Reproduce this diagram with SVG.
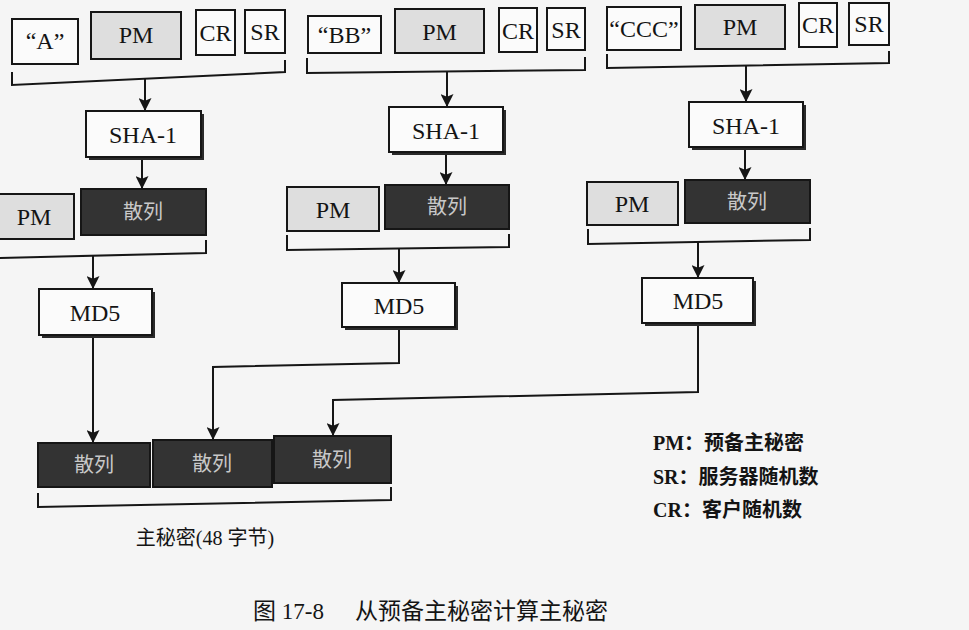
<svg xmlns="http://www.w3.org/2000/svg" width="969" height="630" viewBox="0 0 969 630">
<style>
text{font-family:'Liberation Serif','Noto Sans CJK SC',serif;fill:#141414;text-anchor:middle}
.w{fill:#fbfbfb;stroke:#161616;stroke-width:2}
.g{fill:#dedede;stroke:#161616;stroke-width:2}
.d{fill:#333;stroke:#161616;stroke-width:2}
.sh{fill:#2a2a2a}
.t{font-size:24px}
.h{font-size:20px;fill:#c8c8c8}
.c{fill:none;stroke:#161616;stroke-width:2}
.lg{font-size:20px;text-anchor:start;font-weight:bold}
</style>
<defs>
<marker id="ah" markerUnits="userSpaceOnUse" markerWidth="13" markerHeight="13" viewBox="0 0 12 12" refX="12" refY="6" orient="auto">
<path d="M0,0 L12,6 L0,12 L2.5,6 z" fill="#161616"/>
</marker>
</defs>
<rect x="0" y="0" width="969" height="630" fill="#f5f5f5"/>

<g id="connectors">
<path class="c" d="M12,72 V85 L285,72 V60"/>
<path class="c" d="M-5,258 L206,253 V240"/>
<path class="c" d="M307,58 V73 L585,70 V57"/>
<path class="c" d="M287,235 V250 L509,247 V234"/>
<path class="c" d="M607,54 V68 L889,63 V51"/>
<path class="c" d="M588,229 V244 L810,240 V228"/>
<path class="c" d="M38,493 V507 L391,500 V487"/>
<path class="c" marker-end="url(#ah)" d="M145,79 V111"/>
<path class="c" marker-end="url(#ah)" d="M142,158 V189"/>
<path class="c" marker-end="url(#ah)" d="M93,256 V289"/>
<path class="c" marker-end="url(#ah)" d="M93,336 V443"/>
<path class="c" marker-end="url(#ah)" d="M447,72 V107"/>
<path class="c" marker-end="url(#ah)" d="M446,153 V185"/>
<path class="c" marker-end="url(#ah)" d="M399,249 V283"/>
<path class="c" marker-end="url(#ah)" d="M399,328 V363 L213,367 V440"/>
<path class="c" marker-end="url(#ah)" d="M746,66 V102"/>
<path class="c" marker-end="url(#ah)" d="M745,148 V180"/>
<path class="c" marker-end="url(#ah)" d="M698,242 V278"/>
<path class="c" marker-end="url(#ah)" d="M698,324 V392 L333,400 V436"/>
</g>

<g id="lblA"><rect class="w" x="12" y="19" width="66" height="45"/><text class="t" x="45" y="49">“A”</text></g>
<g id="pmA"><rect class="g" x="91" y="12" width="90" height="47"/><text class="t" x="136" y="43">PM</text></g>
<g id="crA"><rect class="w" x="196" y="10" width="39" height="45"/><text class="t" x="215.5" y="41">CR</text></g>
<g id="srA"><rect class="w" x="245" y="10" width="40" height="43"/><text class="t" x="265" y="40">SR</text></g>
<g id="shaA"><rect class="sh" x="89" y="114" width="115" height="46"/><rect class="w" x="86" y="111" width="115" height="46"/><text class="t" x="143" y="143">SHA-1</text></g>
<g id="pmA2"><rect class="g" x="-6" y="194" width="80" height="45"/><text class="t" x="34" y="225">PM</text></g>
<g id="hashA"><rect class="d" x="81" y="189" width="125" height="46"/><text class="h" x="143" y="219">散列</text></g>
<g id="md5A"><rect class="sh" x="42" y="292" width="113" height="46"/><rect class="w" x="39" y="289" width="113" height="46"/><text class="t" x="95" y="321">MD5</text></g>

<g id="lblB"><rect class="w" x="308" y="16" width="73" height="37"/><text class="t" x="344.5" y="43">“BB”</text></g>
<g id="pmB"><rect class="g" x="395" y="9" width="89" height="44"/><text class="t" x="439.5" y="40">PM</text></g>
<g id="crB"><rect class="w" x="499" y="8" width="38" height="44"/><text class="t" x="518" y="39">CR</text></g>
<g id="srB"><rect class="w" x="547" y="8" width="38" height="42"/><text class="t" x="566" y="38">SR</text></g>
<g id="shaB"><rect class="sh" x="392" y="110" width="114" height="45"/><rect class="w" x="389" y="107" width="114" height="45"/><text class="t" x="446" y="139">SHA-1</text></g>
<g id="pmB2"><rect class="g" x="287" y="187" width="92" height="44"/><text class="t" x="333" y="218">PM</text></g>
<g id="hashB"><rect class="d" x="385" y="185" width="124" height="44"/><text class="h" x="447" y="214">散列</text></g>
<g id="md5B"><rect class="sh" x="345" y="286" width="113" height="44"/><rect class="w" x="342" y="283" width="113" height="44"/><text class="t" x="399" y="314">MD5</text></g>

<g id="lblC"><rect class="w" x="607" y="7" width="74" height="43"/><text class="t" x="644" y="37">“CCC”</text></g>
<g id="pmC"><rect class="g" x="695" y="5" width="90" height="44"/><text class="t" x="740" y="35">PM</text></g>
<g id="crC"><rect class="w" x="799" y="3" width="38" height="44"/><text class="t" x="818" y="33">CR</text></g>
<g id="srC"><rect class="w" x="849" y="3" width="40" height="42"/><text class="t" x="869" y="32">SR</text></g>
<g id="shaC"><rect class="sh" x="692" y="105" width="114" height="45"/><rect class="w" x="689" y="102" width="114" height="45"/><text class="t" x="746" y="134">SHA-1</text></g>
<g id="pmC2"><rect class="g" x="587" y="182" width="91" height="43"/><text class="t" x="632" y="212">PM</text></g>
<g id="hashC"><rect class="d" x="685" y="180" width="125" height="43"/><text class="h" x="747" y="209">散列</text></g>
<g id="md5C"><rect class="sh" x="645" y="281" width="111" height="45"/><rect class="w" x="642" y="278" width="111" height="45"/><text class="t" x="698" y="309">MD5</text></g>

<g id="out1"><rect class="d" x="38" y="443" width="112" height="44"/><text class="h" x="94" y="472">散列</text></g>
<g id="out2"><rect class="d" x="153" y="440" width="119" height="47"/><text class="h" x="212" y="471">散列</text></g>
<g id="out3"><rect class="d" x="274" y="436" width="117" height="47"/><text class="h" x="332" y="467">散列</text></g>
<g id="masterLabel"><text x="205" y="545" style="font-size:20px">主秘密(48 字节)</text></g>

<g id="legend">
<text class="lg" x="653" y="450">PM：预备主秘密</text>
<text class="lg" x="653" y="484">SR：服务器随机数</text>
<text class="lg" x="653" y="517">CR：客户随机数</text>
</g>
<g id="caption"><text x="253" y="619" style="font-size:23px;text-anchor:start">图 17-8<tspan x="355">从预备主秘密计算主秘密</tspan></text></g>
</svg>
